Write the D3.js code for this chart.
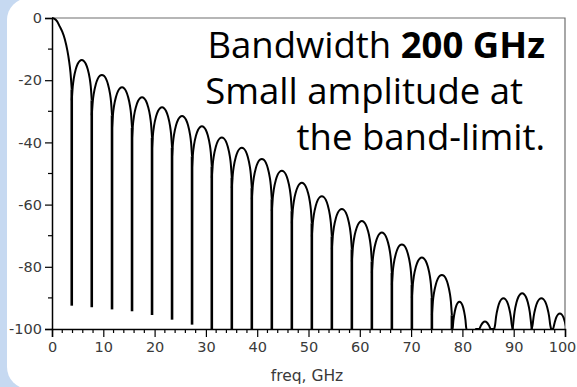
<!DOCTYPE html>
<html>
<head>
<meta charset="utf-8">
<script src="https://cdn.jsdelivr.net/npm/d3@7"></script>
<style>
  body { margin: 0; background: #c6d9f1; }
  svg { display: block; }
</style>
</head>
<body>
<div id="rootDiv"></div>
<script>
// values
const mainLobeFreq = [0, 0.5, 1, 1.5, 2, 2.5, 3, 3.3, 3.6, 3.85];
const mainLobeDb = [0, -0.3, -1.1, -2.7, -4.4, -6.8, -10.5, -13.5, -17.5, -23];

// side lobes: left null, right null, peak level (dB)
const lobeStart = [3.85, 7.75, 11.7, 15.6, 19.5, 23.4, 27.3, 31.15, 35.05, 38.95, 42.85, 46.75, 50.65, 54.55, 58.45, 62.35, 66.25, 70.15, 74.05, 77.95, 82.5, 86.2, 89.8, 93.5, 97.3];
const lobeEnd = [7.75, 11.7, 15.6, 19.5, 23.4, 27.3, 31.15, 35.05, 38.95, 42.85, 46.75, 50.65, 54.55, 58.45, 62.35, 66.25, 70.15, 74.05, 77.95, 80.9, 86.3, 89.8, 93.5, 97.3, 100.7];
const lobePeak = [-13.5, -18.3, -22.3, -25.5, -28.7, -31.5, -34.8, -38.4, -41.7, -45.3, -49.1, -53, -57.3, -61.4, -65.3, -69, -72.8, -77, -82.6, -91.2, -97.6, -90.1, -88.5, -90.1, -95];

// how deep the spikes at the nulls go
const nullFreq = [3.85, 7.75, 11.7, 15.6, 19.5, 23.4, 27.3, 31.15, 35.05, 38.95, 42.85, 46.75, 50.65, 54.55, 58.45, 62.35, 66.25, 70.15, 74.05, 77.95];
const nullDepth = [-92.5, -93, -93.7, -94.3, -95.5, -97, -98.6, -100, -100, -100, -100, -100, -100, -100, -100, -100, -100, -100, -100, -100];

// shape of one lobe, read from the first side lobes (fraction across, dB below peak)
const lobeShapeFrac = [0, 0.05, 0.1, 0.2, 0.3, 0.4, 0.5, 0.6, 0.7, 0.8, 0.9, 0.95, 1];
const lobeShapeDrop = [-13, -8.5, -6, -3, -1.2, -0.3, 0, -0.3, -1.2, -3, -6, -8.5, -13];

const xTicks = [0, 10, 20, 30, 40, 50, 60, 70, 80, 90, 100];
const yTicks = [0, -20, -40, -60, -80, -100];
const xMinorTicks = d3.range(0, 101, 2).filter(v => v % 10 !== 0);
const yMinorTicks = [-10, -30, -50, -70, -90];

const W = 577, H = 387;
const plot = { left: 52, right: 565, top: 18, bottom: 329 };

const x = d3.scaleLinear().domain([0, 100]).range([plot.left, plot.right]);
const y = d3.scaleLinear().domain([-100, 0]).range([plot.bottom, plot.top]).clamp(true);

// tick labels use a plain hyphen like the original
const tickFmt = d => String(d);

const svg = d3.select('#rootDiv').append('svg')
    .attr('width', W)
    .attr('height', H);

// rounded white slide panel over the blue background
svg.append('rect')
    .attr('x', 7).attr('y', -2)
    .attr('width', 640).attr('height', 391)
    .attr('rx', 22)
    .attr('fill', '#ffffff');

svg.append('clipPath').attr('id', 'plotClip')
    .append('rect')
    .attr('x', plot.left).attr('y', plot.top - 2)
    .attr('width', plot.right - plot.left).attr('height', plot.bottom - plot.top + 2);

// frame top/right
svg.append('path')
    .attr('d', `M${plot.left},${plot.top}H${plot.right}V${plot.bottom}`)
    .attr('fill', 'none')
    .attr('stroke', '#6e6e6e')
    .attr('stroke-width', 1.2);

const g = svg.append('g').attr('clip-path', 'url(#plotClip)');

const line = d3.line()
    .x(d => x(d[0]))
    .y(d => y(Math.max(-100, d[1])))
    .curve(d3.curveMonotoneX);

// main lobe
g.append('path')
    .datum(mainLobeFreq.map((f, i) => [f, mainLobeDb[i]]))
    .attr('d', line)
    .attr('fill', 'none')
    .attr('stroke', '#000')
    .attr('stroke-width', 2);

const lobes = lobeStart.map((s, i) => {
    const e = lobeEnd[i];
    return lobeShapeFrac.map((fr, k) => [s + fr * (e - s), lobePeak[i] + lobeShapeDrop[k]]);
});

g.selectAll('path.lobe')
    .data(lobes)
    .enter()
    .append('path')
    .attr('class', 'lobe')
    .attr('d', line)
    .attr('fill', 'none')
    .attr('stroke', '#000')
    .attr('stroke-width', 2);

// spikes at nulls: from the higher of the two lobe edges down to the null depth
const edgeDrop = lobeShapeDrop[0];
const nullTop = nullFreq.map((f, i) => {
    const leftEdge = i === 0 ? mainLobeDb[mainLobeDb.length - 1] : lobePeak[i - 1] + edgeDrop;
    const rightEdge = lobePeak[i] + edgeDrop;
    return Math.max(leftEdge, rightEdge);
});

g.selectAll('line.null')
    .data(nullFreq)
    .enter()
    .append('line')
    .attr('class', 'null')
    .attr('x1', d => x(d)).attr('x2', d => x(d))
    .attr('y1', (d, i) => y(nullTop[i]))
    .attr('y2', (d, i) => y(nullDepth[i]))
    .attr('stroke', '#000')
    .attr('stroke-width', 2.6);

// axes
const axisFont = '"DejaVu Sans", sans-serif';

const yAxis = svg.append('g')
    .attr('transform', `translate(${plot.left},0)`)
    .call(d3.axisLeft(y).tickValues(yTicks).tickSize(7).tickPadding(3).tickFormat(tickFmt));
yAxis.append('g').selectAll('line')
    .data(yMinorTicks).enter().append('line')
    .attr('x1', -4).attr('x2', 0)
    .attr('y1', d => y(d)).attr('y2', d => y(d));

const xAxis = svg.append('g')
    .attr('transform', `translate(0,${plot.bottom})`)
    .call(d3.axisBottom(x).tickValues(xTicks).tickSize(8).tickPadding(5).tickFormat(tickFmt));
xAxis.append('g').selectAll('line')
    .data(xMinorTicks).enter().append('line')
    .attr('y1', 0).attr('y2', 4)
    .attr('x1', d => x(d)).attr('x2', d => x(d));

for (const axis of [xAxis, yAxis]) {
    axis.selectAll('path.domain').attr('stroke', '#000').attr('stroke-width', 1.5);
    axis.selectAll('line').attr('stroke', '#000').attr('stroke-width', 1.2);
    axis.selectAll('text')
        .attr('fill', '#3a3a3a')
        .style('font-family', axisFont)
        .style('font-size', '14.5px');
}
// the last x label sits against the right edge in the original
xAxis.selectAll('.tick text').filter(d => d === 100).attr('dx', -3);

svg.append('text')
    .attr('x', 307)
    .attr('y', 381)
    .attr('text-anchor', 'middle')
    .attr('fill', '#3a3a3a')
    .style('font-family', axisFont)
    .style('font-size', '15.5px')
    .text('freq, GHz');

// annotation
const noteFont = '"Open Sans", "Noto Sans", sans-serif';
const note = svg.append('g')
    .style('font-family', noteFont)
    .style('font-size', '36.5px')
    .attr('fill', '#000');

const l1 = note.append('text').attr('x', 545).attr('y', 58).attr('text-anchor', 'end');
l1.append('tspan').text('Bandwidth ');
l1.append('tspan').style('font-weight', 'bold').text('200 GHz');

note.append('text').attr('x', 523).attr('y', 104).attr('text-anchor', 'end')
    .text('Small amplitude at');
note.append('text').attr('x', 545).attr('y', 150).attr('text-anchor', 'end')
    .text('the band-limit.');
</script>
</body>
</html>
